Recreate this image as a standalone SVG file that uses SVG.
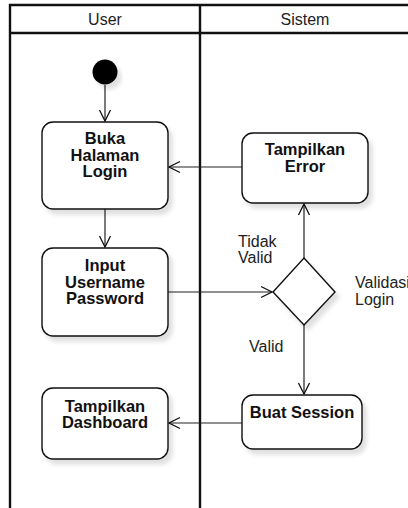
<svg xmlns="http://www.w3.org/2000/svg" width="408" height="508" viewBox="0 0 408 508">
<defs>
<marker id="arr" markerUnits="userSpaceOnUse" markerWidth="16" markerHeight="16" viewBox="-12 -8 16 16" refX="0" refY="0" orient="auto">
<path d="M-11,-5.5 L0,0 L-11,5.5" fill="none" stroke="#111" stroke-width="1.3"/>
</marker>
<filter id="sh" x="-10%" y="-10%" width="130%" height="140%">
<feDropShadow dx="4" dy="5" stdDeviation="2" flood-color="#000" flood-opacity="0.12"/>
</filter>
<style>
.lane{fill:none;stroke:#111;stroke-width:2.4}
.box{fill:#fff;stroke:#111;stroke-width:1.4;filter:url(#sh)}
.t{font-family:"Liberation Sans",Arial,sans-serif;font-size:16.5px;font-weight:bold;fill:#111;text-anchor:middle}
.h{font-family:"Liberation Sans",Arial,sans-serif;font-size:16px;fill:#222;text-anchor:middle}
.l{font-family:"Liberation Sans",Arial,sans-serif;font-size:16px;fill:#222}
.c{fill:none;stroke:#222;stroke-width:1.2;marker-end:url(#arr)}
</style>
</defs>
<rect width="408" height="508" fill="#fff"/>
<g id="lanes">
<path class="lane" d="M10,508 V5 H410 M10,33 H410 M200,5 V508"/>
<text class="h" x="105" y="25">User</text>
<text class="h" x="305" y="25">Sistem</text>
</g>
<g id="connectors">
<line class="c" x1="105" y1="85" x2="105" y2="121"/>
<line class="c" x1="242" y1="167" x2="169" y2="167"/>
<line class="c" x1="105" y1="209" x2="105" y2="247"/>
<line class="c" x1="168" y1="292" x2="272" y2="292"/>
<line class="c" x1="304" y1="258" x2="304" y2="204"/>
<line class="c" x1="304" y1="325" x2="304" y2="394"/>
<line class="c" x1="242" y1="423" x2="169" y2="423"/>
</g>
<g id="start">
<circle cx="105" cy="72" r="12.5" fill="#000" filter="url(#sh)"/>
</g>
<g id="buka">
<rect class="box" x="42" y="122" width="126" height="87" rx="11"/>
<text class="t"><tspan x="105" y="144">Buka</tspan><tspan x="105" y="160.5">Halaman</tspan><tspan x="105" y="177">Login</tspan></text>
</g>
<g id="error">
<rect class="box" x="242" y="133" width="126" height="70" rx="11"/>
<text class="t"><tspan x="305" y="155">Tampilkan</tspan><tspan x="305" y="172">Error</tspan></text>
</g>
<g id="input">
<rect class="box" x="42" y="248" width="126" height="88" rx="11"/>
<text class="t"><tspan x="105" y="271">Input</tspan><tspan x="105" y="287.5">Username</tspan><tspan x="105" y="304">Password</tspan></text>
</g>
<g id="decision">
<polygon class="box" points="304,258 335,292 304,325 273,292"/>
<text class="l"><tspan x="355" y="288">Validasi</tspan><tspan x="355" y="305">Login</tspan></text>
</g>
<g id="labels">
<text class="l"><tspan x="238" y="247">Tidak</tspan><tspan x="238" y="263">Valid</tspan></text>
<text class="l" x="249" y="352">Valid</text>
</g>
<g id="session">
<rect class="box" x="242" y="395" width="120" height="54" rx="11"/>
<text class="t" x="302" y="418">Buat Session</text>
</g>
<g id="dashboard">
<rect class="box" x="42" y="388" width="126" height="71" rx="11"/>
<text class="t"><tspan x="105" y="411.5">Tampilkan</tspan><tspan x="105" y="428">Dashboard</tspan></text>
</g>
</svg>
